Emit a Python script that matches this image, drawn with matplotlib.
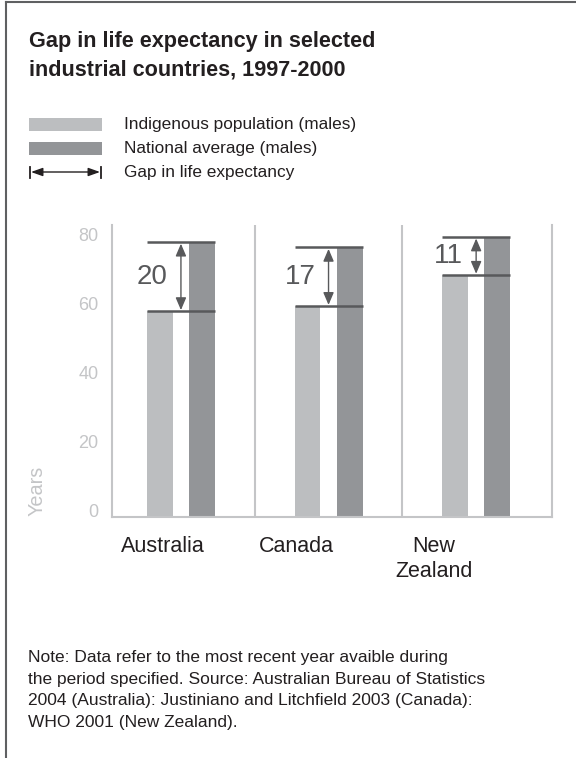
import matplotlib
matplotlib.use("Agg")
import matplotlib.pyplot as plt
from matplotlib.lines import Line2D
from matplotlib.patches import Rectangle, FancyArrowPatch
import matplotlib.transforms as mtransforms
import numpy as np

plt.rcParams['font.family'] = ['Liberation Sans', 'DejaVu Sans']

# ---- data ----
countries = ["Australia", "Canada", "New\nZealand"]
indigenous_males = [59.5, 61, 70]
national_males = [79.5, 78, 81]
gap_years = [20, 17, 11]
y_ticks = [0, 20, 40, 60, 80]

legend_labels = ["Indigenous population (males)",
                 "National average (males)",
                 "Gap in life expectancy"]
title = "Gap in life expectancy in selected\nindustrial countries, 1997-2000"
note = ("Note: Data refer to the most recent year avaible during\n"
        "the period specified. Source: Australian Bureau of Statistics\n"
        "2004 (Australia): Justiniano and Litchfield 2003 (Canada):\n"
        "WHO 2001 (New Zealand).")

# ---- style ----
LIGHT = "#bcbec0"
DARK_BAR = "#939598"
INK = "#58595b"
AXIS = "#c4c5c7"
TICK_TXT = "#c4c5c7"
TEXT = "#231f20"
FRAME = "#5f6062"

W, H, DPI = 576, 758, 100
fig = plt.figure(figsize=(W / DPI, H / DPI), dpi=DPI)


def fx(px):
    return px / W


def fy(py):
    return 1 - py / H


# outer frame (top and left edges)
fig.add_artist(Line2D([fx(6), 1.0], [fy(2), fy(2)], color=FRAME, lw=1.5))
fig.add_artist(Line2D([fx(6), fx(6)], [fy(2), 0.0], color=FRAME, lw=1.5))

# title
fig.text(fx(29), fy(31.5), title, fontsize=15.6, fontweight='bold', color=TEXT,
         ha='left', va='top', linespacing=1.45)

# legend
fig.add_artist(Rectangle((fx(29), fy(131)), fx(73), 13 / H, color=LIGHT, lw=0))
fig.add_artist(Rectangle((fx(29), fy(155)), fx(73), 13 / H, color=DARK_BAR, lw=0))
fig.add_artist(Line2D([fx(30), fx(30)], [fy(166.5), fy(177.5)], color=TEXT, lw=1.3))
fig.add_artist(Line2D([fx(101), fx(101)], [fy(166.5), fy(177.5)], color=TEXT, lw=1.3))
fig.add_artist(FancyArrowPatch(
    (fx(31), fy(172)), (fx(100), fy(172)), transform=fig.transFigure,
    arrowstyle='<|-|>,head_length=0.7,head_width=0.25', mutation_scale=10,
    color=TEXT, lw=1, shrinkA=0, shrinkB=0))
for i, lab in enumerate(legend_labels):
    fig.text(fx(124), fy(125 + 23.5 * i), lab, fontsize=12.4, color=TEXT,
             ha='left', va='center')

# chart
ax = fig.add_axes([fx(112.3), fy(517.3), (552.3 - 112.3) / W, (517.3 - 225) / H])
x = np.arange(len(countries))
bar_w = 0.176
off = 0.1425
ax.set_xlim(-0.465, 2.516)
ax.set_ylim(0, 84.5)

ax.bar(x - off, indigenous_males, bar_w, color=LIGHT, zorder=1)
ax.bar(x + off, national_males, bar_w, color=DARK_BAR, zorder=1)

left_edge = x - off - bar_w / 2
right_edge = x + off + bar_w / 2
ax.hlines(national_males, left_edge, right_edge, color=INK, lw=1.8, zorder=3)
ax.hlines(indigenous_males, left_edge, right_edge, color=INK, lw=1.8, zorder=3)

for xi, lo, hi, g in zip(x, indigenous_males, national_males, gap_years):
    ax.annotate('', xy=(xi, hi), xytext=(xi, lo),
                arrowprops=dict(arrowstyle='<|-|>,head_length=0.75,head_width=0.32',
                                mutation_scale=10, color=INK, lw=1,
                                shrinkA=1, shrinkB=1), zorder=4)
    ax.text(xi - 0.09, (lo + hi) / 2, str(g), ha='right', va='center',
            fontsize=20, color=INK)

# panel separators
for sx in (0.5, 1.5):
    ax.axvline(sx, color=AXIS, lw=1.5, zorder=0)

ax.spines['top'].set_visible(False)
for side in ('left', 'bottom', 'right'):
    ax.spines[side].set_color(AXIS)
    ax.spines[side].set_linewidth(1.5)

ax.set_yticks(y_ticks)
ax.tick_params(axis='y', length=0, pad=9.8, labelsize=13, labelcolor=TICK_TXT)
plt.setp(ax.get_yticklabels(), va='baseline')
ax.set_xticks([])

fig.text(fx(37.5), fy(491), "Years", rotation=90, fontsize=14.3, color=TICK_TXT,
         ha='center', va='center')

# country names
label_nudge = [-0.125, -0.215, -0.285]
trans = mtransforms.blended_transform_factory(ax.transData, ax.transAxes)
for xi, name, nudge in zip(x, countries, label_nudge):
    ax.text(xi + nudge, -0.0623, name, transform=trans, ha='center', va='top',
            fontsize=15.5, color=TEXT, linespacing=1.25)

# footnote
fig.text(fx(28), fy(650), note, fontsize=12.5, color=TEXT, ha='left', va='top',
         linespacing=1.55)

fig.savefig("out.png", dpi=DPI)
